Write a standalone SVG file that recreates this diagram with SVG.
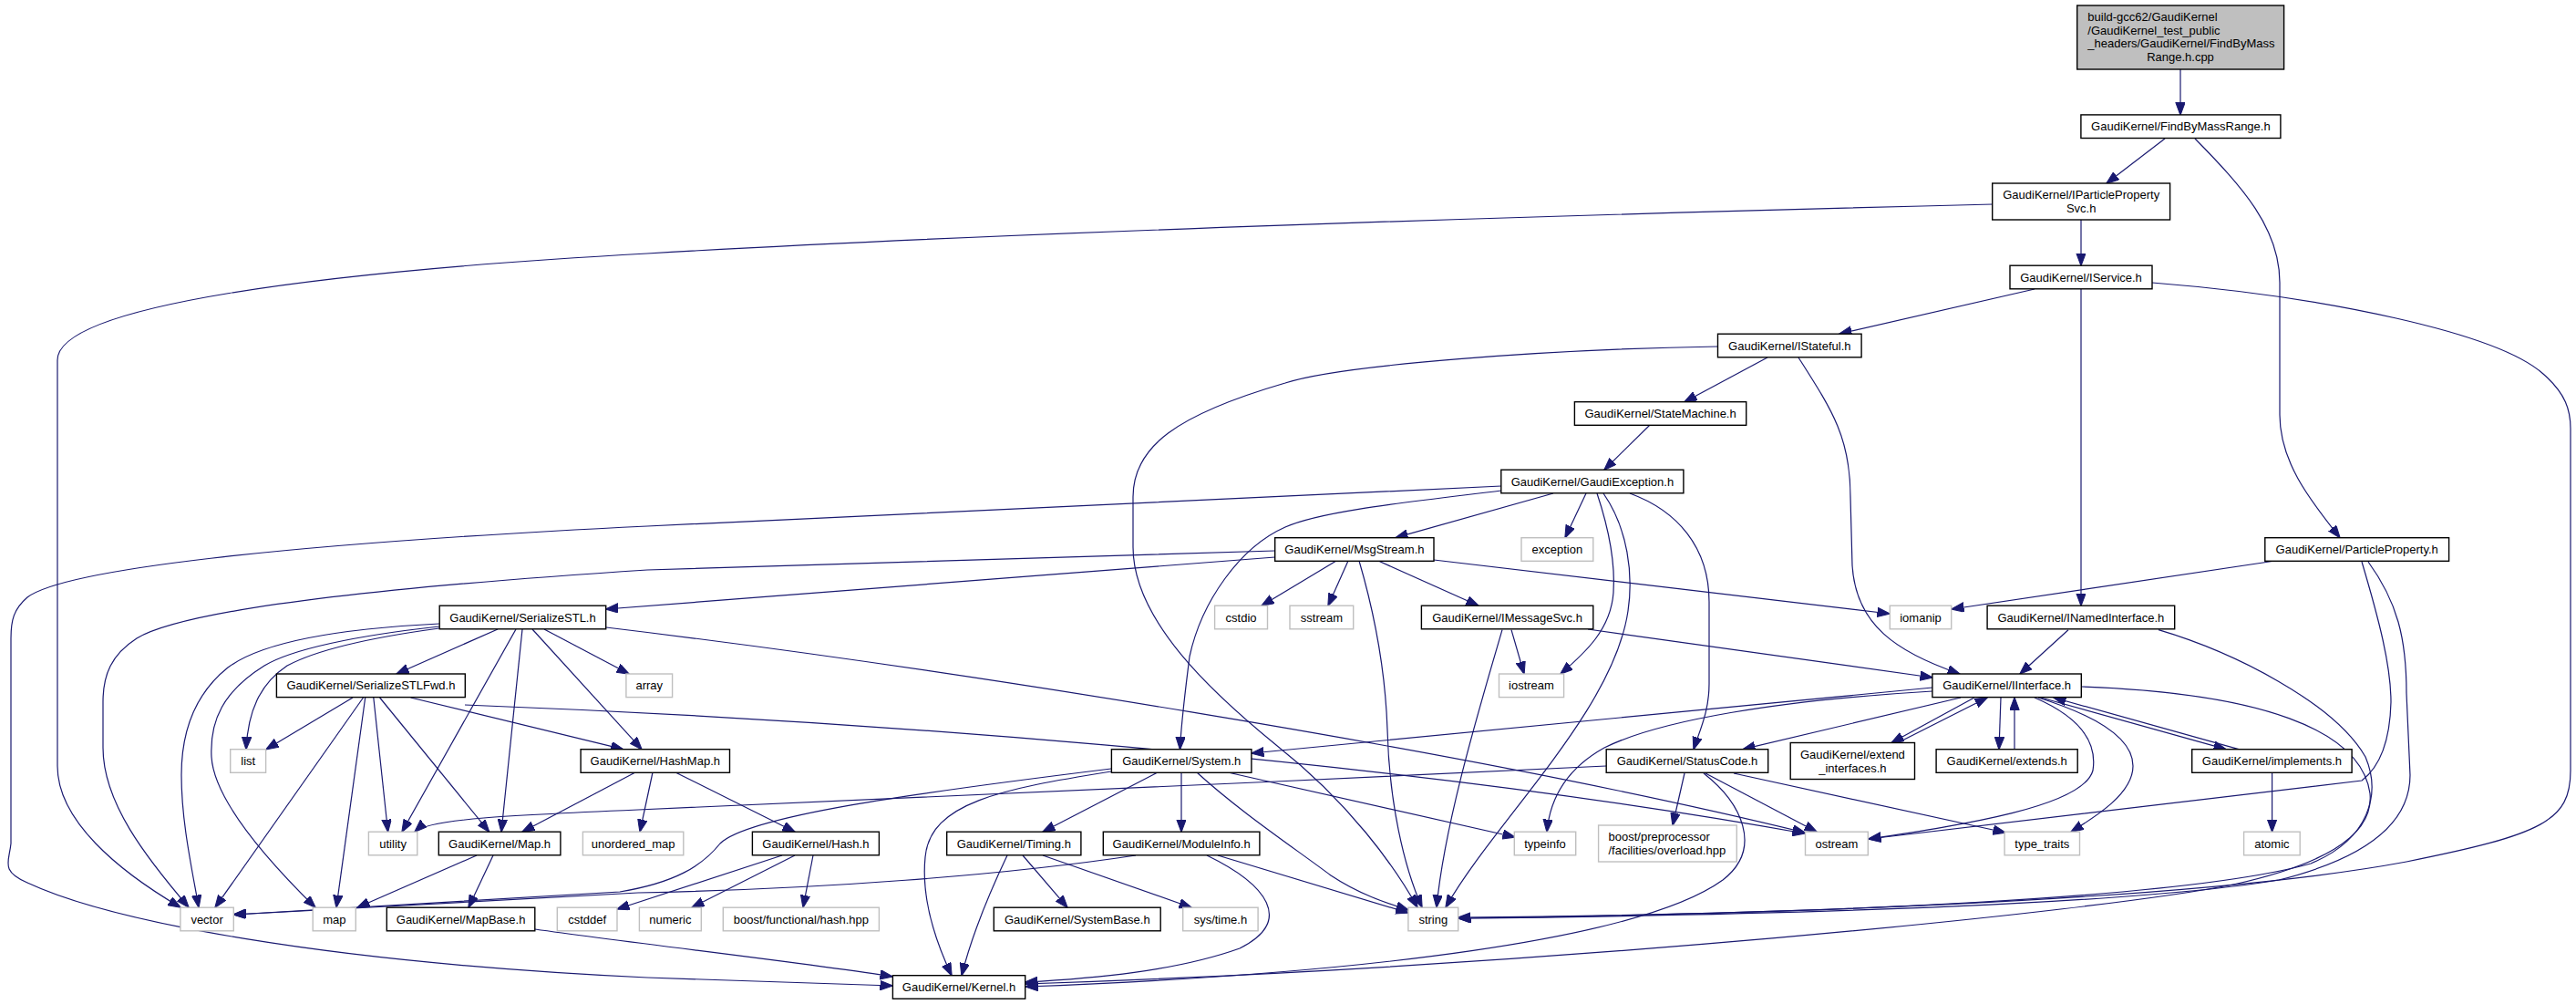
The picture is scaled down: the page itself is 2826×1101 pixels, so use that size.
<svg xmlns="http://www.w3.org/2000/svg" width="2826" height="1101" viewBox="0 0 2826 1101">
<defs>
<marker id="a" markerWidth="15" markerHeight="11" refX="13.5" refY="5.2" orient="auto" markerUnits="userSpaceOnUse"><path d="M0,0 L14,5.2 L0,10.4 z" fill="#191970" stroke="#191970" stroke-width="1"/></marker>
</defs>
<style>
rect{fill:#fff;stroke:#000;stroke-width:1.4}
.s rect{stroke:#bfbfbf}
.r rect{fill:#bfbfbf}
text{font-family:"Liberation Sans",Arial,sans-serif;font-size:13px;fill:#000;text-anchor:middle}
.l{text-anchor:start}
#edges path{fill:none;stroke:#191970;stroke-width:1.2;marker-end:url(#a)}
</style>
<rect x="0" y="0" width="2826" height="1101" style="fill:#fff;stroke:none"/>
<g id="edges">
<path d="M2392,76 L2392,125.9"/>
<path d="M2375,152 L2311,201"/>
<path d="M2408,152 C2460,205 2501,250 2501,310 L2501,455 C2501,510 2540,555 2567,589.7"/>
<path d="M2283,241 L2283,291.2"/>
<path d="M2186,224 C1700,236 1100,255 710,278 C350,298 63,335 63,395 L63,840 C63,900 130,955 198,995"/>
<path d="M2232,317 L2018,366"/>
<path d="M2283,317 L2283,664.2"/>
<path d="M2361,310 C2550,325 2740,365 2790,410 C2815,432 2820,450 2820,470 L2820,845 C2820,900 2790,915 2640,945 C2400,990 1900,1003 1600,1007"/>
<path d="M1939,392 L1848,440.7"/>
<path d="M1884.5,380 C1700,383 1470,400 1410,420 C1290,455 1243,490 1243,545 L1243,600 C1243,680 1330,760 1400,817 C1480,880 1530,950 1555,995"/>
<path d="M1973,392 C2010,450 2030,480 2030,545 L2032,620 C2036,685 2080,715 2150,739"/>
<path d="M1810,466 L1760,515.2"/>
<path d="M1647,533 L710,577 C300,597 70,625 30,655 C15,668 12,680 12,700 L12,925 C10,945 0,955 30,968 C120,1010 350,1055 710,1072 L979,1081"/>
<path d="M1704,541 L1531,589.7"/>
<path d="M1740,541 L1717,589.7"/>
<path d="M1647,538 C1550,550 1450,560 1410,578 C1360,600 1318,660 1305,720 C1300,760 1296,790 1294.5,821.7"/>
<path d="M1788,541 C1840,560 1875,600 1875,660 L1875,750 C1875,780 1865,800 1858,821.7"/>
<path d="M1752,541 C1765,580 1772,620 1770,650 C1767,690 1740,715 1712,739"/>
<path d="M1759,541 C1786,580 1792,630 1786,670 C1770,780 1640,900 1586,995"/>
<path d="M1398.7,611 L664.7,668"/>
<path d="M1398.7,604 L710,625 C400,645 200,670 150,700 C122,718 113,740 113,770 L113,820 C113,880 160,940 207,995"/>
<path d="M1466,615 L1384,664.2"/>
<path d="M1479,615 L1457,664.2"/>
<path d="M1491,615 C1510,680 1520,740 1522,800 C1524,880 1540,950 1560,995"/>
<path d="M1512,615 L1622,664.2"/>
<path d="M1573,614 L2073,673"/>
<path d="M2496,615 L2141,668"/>
<path d="M2591,616 C2610,680 2623,730 2623,770 C2622,810 2612,840 2591,856 L2050,920"/>
<path d="M2598,616 C2630,660 2640,700 2640,760 L2644,850 C2644,900 2600,940 2500,965 C2350,990 2000,1003 1600,1007"/>
<path d="M482,684 C380,689 290,702 250,732 C215,760 199,800 199,850 C199,900 210,950 218,995"/>
<path d="M482,687 C390,697 320,712 290,730 C245,758 230,790 232,830 C235,880 300,950 346,995.2"/>
<path d="M482,689 C400,700 345,714 315,730 C285,750 272,780 270,821.7"/>
<path d="M546,690 L435,739"/>
<path d="M566,690 L441,912.2"/>
<path d="M573,690 L550,912.2"/>
<path d="M584,690 L704,821.7"/>
<path d="M597,690 L690,739"/>
<path d="M665,688 C1000,728 1600,820 1980,913"/>
<path d="M387,765 L292,821.7"/>
<path d="M398.5,765 L236,995.2"/>
<path d="M400.7,765 L369,995.2"/>
<path d="M409.8,765 L425.6,912.2"/>
<path d="M416.6,765 L536.6,912.2"/>
<path d="M450.5,765 L683.7,821.7"/>
<path d="M510,773 C900,788 1500,828 1980,914"/>
<path d="M697,847 L573,912.2"/>
<path d="M716,847 L702,912.2"/>
<path d="M741,847 L872,912.2"/>
<path d="M523,938 L392,995.2"/>
<path d="M541,938 L514,995.2"/>
<path d="M587,1019 C700,1035 900,1058 979,1071"/>
<path d="M858,938 L677,997"/>
<path d="M872,938 L759,995.2"/>
<path d="M892,938 L881,995.2"/>
<path d="M1219,843 C1000,870 820,895 790,925 C770,950 740,968 680,978 L256.3,1003"/>
<path d="M1246,938 C1100,960 900,975 700,979 L256.3,1003"/>
<path d="M1219,846 C1100,865 1020,880 1015,940 C1010,990 1030,1040 1044,1069.7"/>
<path d="M1270,847 L1144,912.2"/>
<path d="M1296,847 L1296,912.2"/>
<path d="M1313,847 C1360,890 1420,930 1460,960 C1490,980 1520,990 1545,998"/>
<path d="M1347,847 L1662,918"/>
<path d="M1105,938 C1085,980 1065,1030 1055,1069.7"/>
<path d="M1122,938 L1171,995.2"/>
<path d="M1144,938 L1307,995.2"/>
<path d="M1324,938 C1390,970 1420,1010 1360,1040 C1290,1065 1200,1073 1125,1077"/>
<path d="M1336,938 L1545,1001"/>
<path d="M1658,690.7 L1672,739"/>
<path d="M1648,690.7 C1625,770 1585,900 1576,995"/>
<path d="M1742,690 L2120,743"/>
<path d="M2269,690.7 L2216,739"/>
<path d="M2368,690.7 C2450,715 2560,770 2595,830 C2612,870 2600,920 2535,947 C2400,985 2000,1003 1600,1006"/>
<path d="M2120,754 L1373,826"/>
<path d="M2120,758 C1950,768 1820,790 1760,820 C1715,845 1700,880 1697,912.2"/>
<path d="M2151,765 L1912,821.7"/>
<path d="M2166,765 L2075,814.5"/>
<path d="M2082,814.5 L2180,765"/>
<path d="M2195,765 L2193,821.7"/>
<path d="M2210,821.7 L2210,765"/>
<path d="M2239,765 L2442,821.7"/>
<path d="M2456,821.7 L2253,765"/>
<path d="M2492.6,847.3 L2492.6,912.2"/>
<path d="M2236,765 C2300,785 2340,810 2340,840 C2340,870 2300,895 2272,912.2"/>
<path d="M2232,765 C2290,790 2300,820 2296,845 C2285,885 2150,905 2050,920"/>
<path d="M2283,753 C2480,760 2590,800 2600,870 C2605,920 2540,950 2450,970 C2300,1000 1700,1060 1125,1079"/>
<path d="M1869,848 C1910,880 1935,930 1890,965 C1800,1030 1500,1068 1125,1082"/>
<path d="M1848,848 L1835,905"/>
<path d="M1871,848 L1993,912.2"/>
<path d="M1902,848 L2200,913"/>
<path d="M1762,840 L1400,857 L700,888 C560,894 470,898 455,912.2"/>
</g>
<g id="n_root" class="r"><rect x="2278.7" y="6" width="226.9" height="70"/><text class="l" x="2290.3" y="23">build-gcc62/GaudiKernel</text><text class="l" x="2290.3" y="37.7">/GaudiKernel_test_public</text><text class="l" x="2290.3" y="52.4">_headers/GaudiKernel/FindByMass</text><text x="2392" y="67.1">Range.h.cpp</text></g>
<g id="n_fbm"><rect x="2282.9" y="125.9" width="219" height="25.6"/><text x="2392.4" y="143.2">GaudiKernel/FindByMassRange.h</text></g>
<g id="n_ipps"><rect x="2185.7" y="201" width="194.9" height="40"/><text x="2283.2" y="217.5">GaudiKernel/IParticleProperty</text><text x="2283.2" y="232.5">Svc.h</text></g>
<g id="n_iservice"><rect x="2205" y="291.2" width="156" height="25.6"/><text x="2283" y="308.5">GaudiKernel/IService.h</text></g>
<g id="n_istateful"><rect x="1884.5" y="366.2" width="157.6" height="25.6"/><text x="1963.3" y="383.5">GaudiKernel/IStateful.h</text></g>
<g id="n_statemachine"><rect x="1727.4" y="440.7" width="188.3" height="25.6"/><text x="1821.6" y="458">GaudiKernel/StateMachine.h</text></g>
<g id="n_gaudiexception"><rect x="1646.8" y="515.2" width="200.1" height="25.6"/><text x="1746.9" y="532.5">GaudiKernel/GaudiException.h</text></g>
<g id="n_msgstream"><rect x="1398.7" y="589.7" width="174.3" height="25.6"/><text x="1485.9" y="607">GaudiKernel/MsgStream.h</text></g>
<g id="n_exception" class="s"><rect x="1669" y="589.7" width="78.8" height="25.6"/><text x="1708.4" y="607">exception</text></g>
<g id="n_particleproperty"><rect x="2484.8" y="589.7" width="201.8" height="25.6"/><text x="2585.7" y="607">GaudiKernel/ParticleProperty.h</text></g>
<g id="n_serializestl"><rect x="482.2" y="664.2" width="182.5" height="25.6"/><text x="573.5" y="681.5">GaudiKernel/SerializeSTL.h</text></g>
<g id="n_cstdio" class="s"><rect x="1332.6" y="664.2" width="57.9" height="25.6"/><text x="1361.6" y="681.5">cstdio</text></g>
<g id="n_sstream" class="s"><rect x="1415" y="664.2" width="69.7" height="25.6"/><text x="1449.9" y="681.5">sstream</text></g>
<g id="n_imessagesvc"><rect x="1559.4" y="664.2" width="188.4" height="25.6"/><text x="1653.6" y="681.5">GaudiKernel/IMessageSvc.h</text></g>
<g id="n_iomanip" class="s"><rect x="2073.3" y="664.2" width="67.4" height="25.6"/><text x="2107" y="681.5">iomanip</text></g>
<g id="n_inamedinterface"><rect x="2180.1" y="664.2" width="205.6" height="25.6"/><text x="2282.9" y="681.5">GaudiKernel/INamedInterface.h</text></g>
<g id="n_serializestlfwd"><rect x="303.4" y="739" width="206.9" height="25.6"/><text x="406.9" y="756.3">GaudiKernel/SerializeSTLFwd.h</text></g>
<g id="n_array" class="s"><rect x="686.9" y="739" width="50.7" height="25.6"/><text x="712.3" y="756.3">array</text></g>
<g id="n_iostream" class="s"><rect x="1644.5" y="739" width="71.1" height="25.6"/><text x="1680" y="756.3">iostream</text></g>
<g id="n_iinterface"><rect x="2119.9" y="739" width="163.4" height="25.6"/><text x="2201.6" y="756.3">GaudiKernel/IInterface.h</text></g>
<g id="n_list" class="s"><rect x="252.7" y="821.7" width="38.9" height="25.6"/><text x="272.2" y="839">list</text></g>
<g id="n_hashmap"><rect x="637.1" y="821.7" width="163.4" height="25.6"/><text x="718.8" y="839">GaudiKernel/HashMap.h</text></g>
<g id="n_system"><rect x="1219.4" y="821.7" width="153.5" height="25.6"/><text x="1296.2" y="839">GaudiKernel/System.h</text></g>
<g id="n_statuscode"><rect x="1762.2" y="821.7" width="177.5" height="25.6"/><text x="1851" y="839">GaudiKernel/StatusCode.h</text></g>
<g id="n_extend_interfaces"><rect x="1964.2" y="814.5" width="136.3" height="40"/><text x="2032.4" y="831.5">GaudiKernel/extend</text><text x="2032.4" y="846.5">_interfaces.h</text></g>
<g id="n_extends"><rect x="2124.1" y="821.7" width="155.1" height="25.6"/><text x="2201.7" y="839">GaudiKernel/extends.h</text></g>
<g id="n_implements"><rect x="2404.7" y="821.7" width="175.4" height="25.6"/><text x="2492.4" y="839">GaudiKernel/implements.h</text></g>
<g id="n_utility" class="s"><rect x="404.4" y="912.2" width="53.4" height="25.6"/><text x="431.1" y="929.5">utility</text></g>
<g id="n_map_h"><rect x="481.3" y="912.2" width="133.6" height="25.6"/><text x="548.1" y="929.5">GaudiKernel/Map.h</text></g>
<g id="n_unordered_map" class="s"><rect x="639.4" y="912.2" width="110.4" height="25.6"/><text x="694.6" y="929.5">unordered_map</text></g>
<g id="n_hash"><rect x="825.4" y="912.2" width="139" height="25.6"/><text x="894.9" y="929.5">GaudiKernel/Hash.h</text></g>
<g id="n_timing"><rect x="1038.7" y="912.2" width="147.2" height="25.6"/><text x="1112.3" y="929.5">GaudiKernel/Timing.h</text></g>
<g id="n_moduleinfo"><rect x="1210.3" y="912.2" width="171.6" height="25.6"/><text x="1296.1" y="929.5">GaudiKernel/ModuleInfo.h</text></g>
<g id="n_typeinfo" class="s"><rect x="1661.3" y="912.2" width="67.4" height="25.6"/><text x="1695" y="929.5">typeinfo</text></g>
<g id="n_boost_pp" class="s"><rect x="1753.6" y="905" width="151.7" height="40"/><text class="l" x="1764.5" y="922">boost/preprocessor</text><text class="l" x="1764.5" y="937">/facilities/overload.hpp</text></g>
<g id="n_ostream" class="s"><rect x="1980.5" y="912.2" width="68.8" height="25.6"/><text x="2014.9" y="929.5">ostream</text></g>
<g id="n_type_traits" class="s"><rect x="2199.1" y="912.2" width="82.4" height="25.6"/><text x="2240.3" y="929.5">type_traits</text></g>
<g id="n_atomic" class="s"><rect x="2461.6" y="912.2" width="61.6" height="25.6"/><text x="2492.4" y="929.5">atomic</text></g>
<g id="n_vector" class="s"><rect x="197.9" y="995.2" width="58.4" height="25.6"/><text x="227.1" y="1012.5">vector</text></g>
<g id="n_map" class="s"><rect x="343.2" y="995.2" width="47.1" height="25.6"/><text x="366.8" y="1012.5">map</text></g>
<g id="n_mapbase"><rect x="424.3" y="995.2" width="162.5" height="25.6"/><text x="505.6" y="1012.5">GaudiKernel/MapBase.h</text></g>
<g id="n_cstddef" class="s"><rect x="611.3" y="995.2" width="65.7" height="25.6"/><text x="644.2" y="1012.5">cstddef</text></g>
<g id="n_numeric" class="s"><rect x="701.4" y="995.2" width="67.9" height="25.6"/><text x="735.4" y="1012.5">numeric</text></g>
<g id="n_boost_hash" class="s"><rect x="793.3" y="995.2" width="171.1" height="25.6"/><text x="878.9" y="1012.5">boost/functional/hash.hpp</text></g>
<g id="n_systembase"><rect x="1090.3" y="995.2" width="182.9" height="25.6"/><text x="1181.8" y="1012.5">GaudiKernel/SystemBase.h</text></g>
<g id="n_systime" class="s"><rect x="1297.7" y="995.2" width="82.4" height="25.6"/><text x="1338.9" y="1012.5">sys/time.h</text></g>
<g id="n_string" class="s"><rect x="1544.9" y="995.2" width="54.8" height="25.6"/><text x="1572.3" y="1012.5">string</text></g>
<g id="n_kernel"><rect x="979.4" y="1069.7" width="145.3" height="25.6"/><text x="1052" y="1087">GaudiKernel/Kernel.h</text></g>
</svg>
